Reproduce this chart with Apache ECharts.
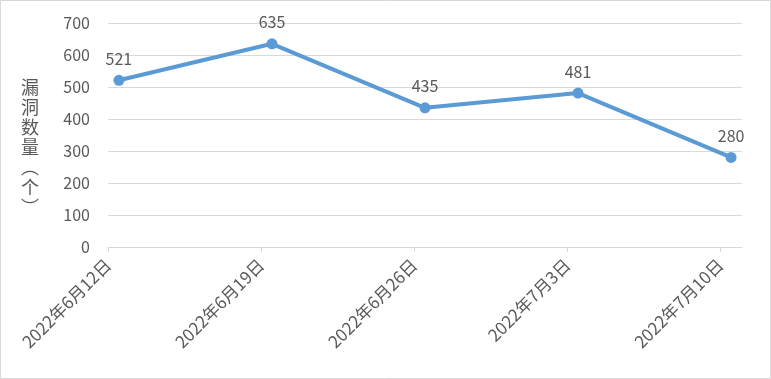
<!DOCTYPE html>
<html>
<head>
<meta charset="utf-8">
<script src="https://cdn.jsdelivr.net/npm/echarts@6/dist/echarts.min.js"></script>
<style>
html,body{margin:0;padding:0;background:#fff;}
#c{width:771px;height:379px;}
</style>
</head>
<body>
<div id="c"></div>
<script>
// Data
const categories = ['2022年6月12日', '2022年6月19日', '2022年6月26日', '2022年7月3日', '2022年7月10日'];
const values = [521, 635, 435, 481, 280];
const yTicks = [0, 100, 200, 300, 400, 500, 600, 700];
const yAxisTitle = ['漏', '洞', '数', '量', '︵', '个', '︶'];
const daysBetween = 7; // weekly dates on a daily date axis

const seriesData = values.map((v, i) => [i * daysBetween + 0.5, v]);
const textColor = '#595959';
const fontFamily = '"Noto Sans CJK SC", "Noto Sans", sans-serif';

const chart = echarts.init(document.getElementById('c'), null, {renderer: 'canvas'});
chart.setOption({
  animation: false,
  backgroundColor: '#fff',
  graphic: [{
    type: 'rect',
    shape: {x: 0.5, y: 0.5, width: 770, height: 378},
    style: {fill: 'none', stroke: '#d9d9d9', lineWidth: 1},
    silent: true
  }, {
    type: 'text',
    left: 21,
    top: 77,
    style: {
      text: yAxisTitle.join('\n'),
      fill: textColor,
      font: '18px ' + fontFamily,
      lineHeight: 20,
      align: 'center'
    }
  }],
  grid: {left: 108, right: 29, top: 23, bottom: 132, containLabel: false},
  xAxis: {
    type: 'value',
    min: 0,
    max: (categories.length - 1) * daysBetween + 1,
    interval: daysBetween,
    splitLine: {show: false},
    axisLine: {show: true, lineStyle: {color: '#d9d9d9', width: 1}},
    axisTick: {show: true, length: 5, lineStyle: {color: '#d9d9d9'}},
    axisLabel: {
      rotate: 45,
      margin: 15,
      color: textColor,
      fontSize: 17,
      fontFamily: fontFamily,
      showMaxLabel: false,
      formatter: function (v) {
        const idx = Math.round(v / daysBetween);
        return categories[idx] || '';
      }
    }
  },
  yAxis: {
    type: 'value',
    min: yTicks[0],
    max: yTicks[yTicks.length - 1],
    interval: 100,
    axisLine: {show: false},
    axisTick: {show: false},
    splitLine: {lineStyle: {color: '#d9d9d9', width: 1}},
    axisLabel: {color: textColor, fontSize: 16, fontFamily: fontFamily, margin: 18}
  },
  series: [{
    type: 'line',
    data: seriesData,
    lineStyle: {color: '#5b9bd5', width: 4},
    itemStyle: {color: '#5b9bd5'},
    symbol: 'circle',
    symbolSize: 11,
    label: {
      show: true,
      position: 'top',
      distance: 8,
      color: textColor,
      fontSize: 16,
      fontFamily: fontFamily,
      formatter: p => p.value[1]
    }
  }]
});
</script>
</body>
</html>
